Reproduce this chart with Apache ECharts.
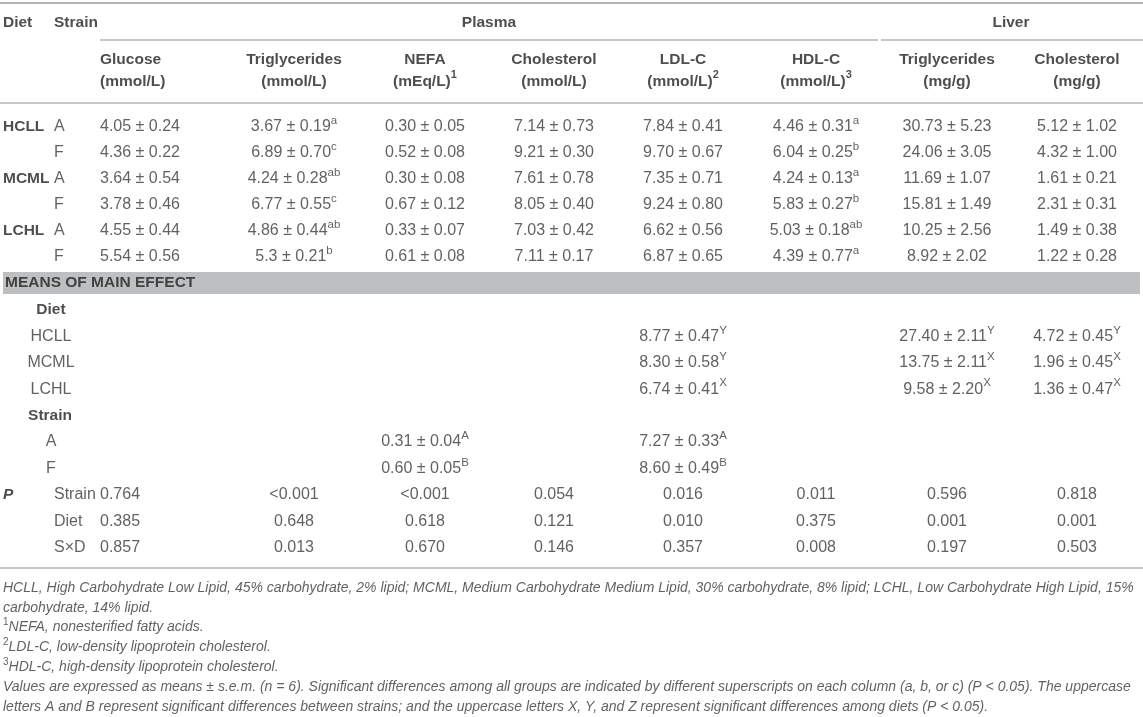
<!DOCTYPE html>
<html>
<head>
<meta charset="utf-8">
<script src="https://cdn.jsdelivr.net/npm/echarts@6/dist/echarts.min.js"></script>
<style>
    html, body { margin: 0; padding: 0; background: #fff; }
    #tableChart { width: 1143px; height: 717px; }
</style>
</head>
<body>
<div id="tableChart"></div>
<script>
/**
 * 表格数据
 * 行顺序: HCLL-A, HCLL-F, MCML-A, MCML-F, LCHL-A, LCHL-F
 */
const diets = ['HCLL', 'MCML', 'LCHL'];
const strains = ['A', 'F'];
const colNames = ['Glucose', 'Triglycerides', 'NEFA', 'Cholesterol', 'LDL-C', 'HDL-C', 'Triglycerides', 'Cholesterol'];
const colUnits = ['(mmol/L)', '(mmol/L)', '(mEq/L)', '(mmol/L)', '(mmol/L)', '(mmol/L)', '(mg/g)', '(mg/g)'];
const colNotes = ['', '', '1', '', '2', '3', '', ''];

const glucose = ['4.05 ± 0.24', '4.36 ± 0.22', '3.64 ± 0.54', '3.78 ± 0.46', '4.55 ± 0.44', '5.54 ± 0.56'];
const plasmaTg = ['3.67 ± 0.19', '6.89 ± 0.70', '4.24 ± 0.28', '6.77 ± 0.55', '4.86 ± 0.44', '5.3 ± 0.21'];
const plasmaTgSup = ['a', 'c', 'ab', 'c', 'ab', 'b'];
const nefa = ['0.30 ± 0.05', '0.52 ± 0.08', '0.30 ± 0.08', '0.67 ± 0.12', '0.33 ± 0.07', '0.61 ± 0.08'];
const cholesterol = ['7.14 ± 0.73', '9.21 ± 0.30', '7.61 ± 0.78', '8.05 ± 0.40', '7.03 ± 0.42', '7.11 ± 0.17'];
const ldl = ['7.84 ± 0.41', '9.70 ± 0.67', '7.35 ± 0.71', '9.24 ± 0.80', '6.62 ± 0.56', '6.87 ± 0.65'];
const hdl = ['4.46 ± 0.31', '6.04 ± 0.25', '4.24 ± 0.13', '5.83 ± 0.27', '5.03 ± 0.18', '4.39 ± 0.77'];
const hdlSup = ['a', 'b', 'a', 'b', 'ab', 'a'];
const liverTg = ['30.73 ± 5.23', '24.06 ± 3.05', '11.69 ± 1.07', '15.81 ± 1.49', '10.25 ± 2.56', '8.92 ± 2.02'];
const liverChol = ['5.12 ± 1.02', '4.32 ± 1.00', '1.61 ± 0.21', '2.31 ± 0.31', '1.49 ± 0.38', '1.22 ± 0.28'];

// 主效应均值
const ldlDiet = ['8.77 ± 0.47', '8.30 ± 0.58', '6.74 ± 0.41'];
const ldlDietSup = ['Y', 'Y', 'X'];
const liverTgDiet = ['27.40 ± 2.11', '13.75 ± 2.11', '9.58 ± 2.20'];
const liverTgDietSup = ['Y', 'X', 'X'];
const liverCholDiet = ['4.72 ± 0.45', '1.96 ± 0.45', '1.36 ± 0.47'];
const liverCholDietSup = ['Y', 'X', 'X'];
const nefaStrain = ['0.31 ± 0.04', '0.60 ± 0.05'];
const nefaStrainSup = ['A', 'B'];
const ldlStrain = ['7.27 ± 0.33', '8.60 ± 0.49'];
const ldlStrainSup = ['A', 'B'];

// P 值
const pLabels = ['Strain', 'Diet', 'S×D'];
const pStrain = ['0.764', '<0.001', '<0.001', '0.054', '0.016', '0.011', '0.596', '0.818'];
const pDiet = ['0.385', '0.648', '0.618', '0.121', '0.010', '0.375', '0.001', '0.001'];
const pSxD = ['0.857', '0.013', '0.670', '0.146', '0.357', '0.008', '0.197', '0.503'];

const footnotes = [
    ['', 'HCLL, High Carbohydrate Low Lipid, 45% carbohydrate, 2% lipid; MCML, Medium Carbohydrate Medium Lipid, 30% carbohydrate, 8% lipid; LCHL, Low Carbohydrate High Lipid, 15%'],
    ['', 'carbohydrate, 14% lipid.'],
    ['1', 'NEFA, nonesterified fatty acids.'],
    ['2', 'LDL-C, low-density lipoprotein cholesterol.'],
    ['3', 'HDL-C, high-density lipoprotein cholesterol.'],
    ['', 'Values are expressed as means ± s.e.m. (n = 6). Significant differences among all groups are indicated by different superscripts on each column (a, b, or c) (P < 0.05). The uppercase'],
    ['', 'letters A and B represent significant differences between strains; and the uppercase letters X, Y, and Z represent significant differences among diets (P < 0.05).']
];

/**
 * 版面
 */
const W = 1143, H = 717;
const colX = [100, 294, 425, 554, 683, 816, 947, 1077];
const colAlign = ['left', 'center', 'center', 'center', 'center', 'center', 'center', 'center'];
const groupY0 = 126.5, groupStep = 26;
const mainY0 = 310, mainStep = 26.4;
const noteY0 = 588, noteStep = 19.8;
const font = '"Liberation Sans", Arial, Helvetica, sans-serif';

const items = [];
function put(x, y, text, align) {
    items.push({
        value: [x, y],
        label: {
            align: align || 'center',
            formatter: function () { return text; }
        }
    });
}
function cell(val, sup) {
    return '{n|' + val + '}' + (sup ? '{ns|' + sup + '}' : '');
}

// 表头
put(3, 22.7, '{b|Diet}', 'left');
put(54, 22.7, '{b|Strain}', 'left');
put(489, 22.7, '{b|Plasma}');
put(1011, 22.7, '{b|Liver}');
colNames.forEach((name, i) => {
    put(colX[i], 59.3, '{b|' + name + '}', colAlign[i]);
    put(colX[i], 81.7, '{b|' + colUnits[i] + '}' + (colNotes[i] ? '{bs|' + colNotes[i] + '}' : ''), colAlign[i]);
});

// 各组数据
const groupCols = [glucose, plasmaTg, nefa, cholesterol, ldl, hdl, liverTg, liverChol];
const groupSups = [null, plasmaTgSup, null, null, null, hdlSup, null, null];
for (let r = 0; r < 6; r++) {
    const y = groupY0 + r * groupStep;
    if (r % 2 === 0) put(3, y, '{b|' + diets[r / 2] + '}', 'left');
    put(54, y, '{n|' + strains[r % 2] + '}', 'left');
    groupCols.forEach((col, c) => {
        put(colX[c], y, cell(col[r], groupSups[c] ? groupSups[c][r] : ''), colAlign[c]);
    });
}

// 主效应
put(5, 283, '{b|MEANS OF MAIN EFFECT}', 'left');
const my = i => mainY0 + i * mainStep;
put(51, my(0), '{b|Diet}');
diets.forEach((d, i) => {
    put(51, my(1 + i), '{n|' + d + '}');
    put(colX[4], my(1 + i), cell(ldlDiet[i], ldlDietSup[i]));
    put(colX[6], my(1 + i), cell(liverTgDiet[i], liverTgDietSup[i]));
    put(colX[7], my(1 + i), cell(liverCholDiet[i], liverCholDietSup[i]));
});
put(50, my(4), '{b|Strain}');
strains.forEach((s, i) => {
    put(51, my(5 + i), '{n|' + s + '}');
    put(colX[2], my(5 + i), cell(nefaStrain[i], nefaStrainSup[i]));
    put(colX[4], my(5 + i), cell(ldlStrain[i], ldlStrainSup[i]));
});

// P 值
put(3, my(7), '{bi|P}', 'left');
[pStrain, pDiet, pSxD].forEach((row, i) => {
    put(54, my(7 + i), '{n|' + pLabels[i] + '}', 'left');
    row.forEach((v, c) => put(colX[c], my(7 + i), '{n|' + v + '}', colAlign[c]));
});

// 注释
footnotes.forEach((note, i) => {
    put(3, noteY0 + i * noteStep, (note[0] ? '{fs|' + note[0] + '}' : '') + '{f|' + note[1] + '}', 'left');
});

// 线条
const rule = (x1, x2, y, w) => [
    { coord: [x1, y], lineStyle: { width: w || 1.5 } },
    { coord: [x2, y] }
];

const tableOption = {
    animation: false,
    grid: { left: 0, right: 0, top: 0, bottom: 0 },
    xAxis: { type: 'value', min: 0, max: W, show: false },
    yAxis: { type: 'value', min: 0, max: H, inverse: true, show: false },
    series: [
        {
            type: 'scatter',
            silent: true,
            symbolSize: 1,
            itemStyle: { color: 'rgba(0,0,0,0)' },
            label: {
                show: true,
                position: 'inside',
                verticalAlign: 'middle',
                rich: {
                    n: { fontFamily: font, fontSize: 16, color: '#3a3a3a', lineHeight: 24 },
                    ns: { fontFamily: font, fontSize: 11.5, color: '#3a3a3a', lineHeight: 10, verticalAlign: 'top' },
                    b: { fontFamily: font, fontSize: 15.5, fontWeight: 'bold', color: '#222', lineHeight: 24 },
                    bs: { fontFamily: font, fontSize: 11, fontWeight: 'bold', color: '#222', lineHeight: 10, verticalAlign: 'top' },
                    bi: { fontFamily: font, fontSize: 15.5, fontWeight: 'bold', fontStyle: 'italic', color: '#222', lineHeight: 24 },
                    f: { fontFamily: font, fontSize: 14, fontStyle: 'italic', color: '#3a3a3a', lineHeight: 20 },
                    fs: { fontFamily: font, fontSize: 10, color: '#3a3a3a', lineHeight: 9, verticalAlign: 'top' }
                }
            },
            data: items,
            markLine: {
                silent: true,
                symbol: 'none',
                label: { show: false },
                lineStyle: { color: '#b4b4b4', type: 'solid', width: 1.5 },
                data: [
                    rule(0, W, 2.5, 2),
                    rule(100, 878, 40),
                    rule(881, W, 40),
                    rule(0, W, 102.7),
                    rule(0, W, 568)
                ]
            },
            markArea: {
                silent: true,
                itemStyle: { color: '#bdbfc1' },
                data: [[{ coord: [3, 272] }, { coord: [1140, 294] }]]
            }
        }
    ]
};

const tableChart = echarts.init(document.getElementById('tableChart'));
tableChart.setOption(tableOption);
</script>
</body>
</html>
